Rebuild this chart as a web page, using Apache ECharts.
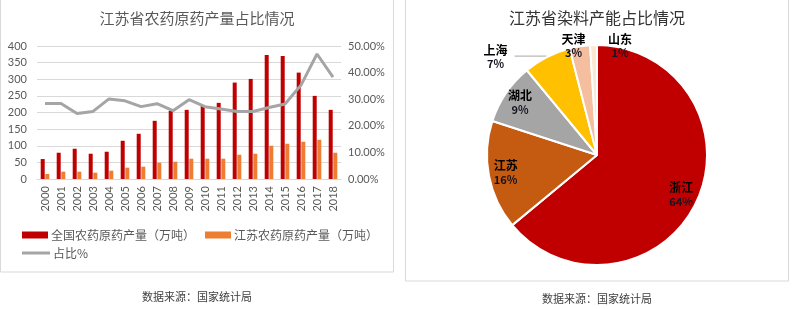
<!DOCTYPE html>
<html>
<head>
<meta charset="utf-8">
<script src="https://cdn.jsdelivr.net/npm/echarts@6/dist/echarts.min.js"></script>
<style>
html,body{margin:0;padding:0;background:#fff;}
#c{width:809px;height:309px;}
</style>
</head>
<body>
<div id="c"></div>
<script>
// ---- data ----
const years = ['2000','2001','2002','2003','2004','2005','2006','2007','2008','2009','2010','2011','2012','2013','2014','2015','2016','2017','2018'];
const nationalOutput = [60, 79, 91, 76, 82, 115, 136, 175, 205, 208, 220, 229, 290, 301, 373, 370, 320, 250, 208];
const jiangsuOutput = [15, 22, 22, 19, 25, 34, 37, 49, 52, 61, 61, 61, 73, 76, 100, 106, 112, 118, 79];
const sharePct = [28.4, 28.4, 24.6, 25.4, 30.1, 29.4, 27.2, 28.3, 25.7, 29.8, 27.2, 26.3, 25.4, 25.4, 26.9, 28.2, 35.3, 47.0, 38.3];
const leftTicks = [0, 50, 100, 150, 200, 250, 300, 350, 400];
const rightTicks = ['0.00%', '10.00%', '20.00%', '30.00%', '40.00%', '50.00%'];
const provinces = ['浙江', '江苏', '湖北', '上海', '天津', '山东'];
const dyeShare = [64, 16, 9, 7, 3, 1];

const pieColors = ['#C00000', '#C55A11', '#A5A5A5', '#FFC000', '#F5BE9E', '#FBE7D2'];
const numFont = 'Lato, "Noto Sans CJK SC", sans-serif';
const cjkFont = '"Noto Sans CJK SC", sans-serif';

const chart = echarts.init(document.getElementById('c'), null, {renderer: 'canvas'});

const pieData = provinces.map((p, i) => ({name: p, value: dyeShare[i], itemStyle: {color: pieColors[i]}}));
const labelData = provinces.map((p, i) => {
  const d = {name: p, value: dyeShare[i]};
  if (p === '上海') {
    d.label = {position: 'outside'};
    d.labelLine = {show: true, length: 1, length2: 32, lineStyle: {color: '#A6A6A6', width: 1}};
  }
  return d;
});
const labelOffsets = {'天津': [-9, -17], '山东': [26, -16], '上海': [0, 1]};

chart.setOption({
  animation: false,
  textStyle: {fontFamily: cjkFont},
  title: [
    {text: '江苏省农药原药产量占比情况', left: 197, top: 11, textAlign: 'center', padding: 0,
     textStyle: {fontSize: 15, fontWeight: 'normal', color: '#595959', fontFamily: cjkFont}},
    {text: '江苏省染料产能占比情况', left: 597, top: 10, textAlign: 'center', padding: 0,
     textStyle: {fontSize: 16, fontWeight: 'normal', color: '#333333', fontFamily: cjkFont}},
    {text: '数据来源：国家统计局', left: 197, top: 291, textAlign: 'center', padding: 0,
     textStyle: {fontSize: 11, fontWeight: 'normal', color: '#404040', fontFamily: cjkFont}},
    {text: '数据来源：国家统计局', left: 597, top: 293, textAlign: 'center', padding: 0,
     textStyle: {fontSize: 11, fontWeight: 'normal', color: '#404040', fontFamily: cjkFont}}
  ],
  graphic: [
    {type: 'rect', shape: {x: 0.5, y: -1, width: 393, height: 273}, style: {fill: 'none', stroke: '#D9D9D9', lineWidth: 1}, silent: true, z: -10},
    {type: 'rect', shape: {x: 405.5, y: -1, width: 383, height: 282}, style: {fill: 'none', stroke: '#D9D9D9', lineWidth: 1}, silent: true, z: -10}
  ],
  legend: [
    {data: ['全国农药原药产量（万吨）', '江苏农药原药产量（万吨）'], left: 22, top: 229, padding: 0,
     icon: 'rect', itemWidth: 26, itemHeight: 7, itemGap: 10,
     textStyle: {fontSize: 12, color: '#595959', fontFamily: cjkFont, padding: [0, 0, 0, -2]}},
    {data: ['占比%'], left: 22, top: 247, padding: 0,
     icon: 'rect', itemWidth: 28, itemHeight: 3,
     textStyle: {fontSize: 12, color: '#595959', fontFamily: cjkFont, padding: [0, 0, 0, -2]}}
  ],
  grid: {left: 37, right: 468, top: 46, bottom: 130, containLabel: false},
  xAxis: {
    type: 'category', data: years,
    axisLine: {show: true, lineStyle: {color: '#D9D9D9'}},
    axisTick: {show: false},
    axisLabel: {rotate: 90, interval: 0, margin: 7, fontSize: 11, color: '#595959', fontFamily: numFont}
  },
  yAxis: [
    {type: 'value', min: leftTicks[0], max: leftTicks[leftTicks.length - 1], interval: 50,
     axisLine: {show: false}, axisTick: {show: false},
     axisLabel: {fontSize: 11, color: '#595959', margin: 10, fontFamily: numFont},
     splitLine: {lineStyle: {color: '#D9D9D9'}}},
    {type: 'value', min: 0, max: 50, interval: 10, position: 'right',
     axisLine: {show: false}, axisTick: {show: false},
     axisLabel: {fontSize: 11, color: '#595959', margin: 7, fontFamily: numFont,
       formatter: (v) => rightTicks[Math.round(v / 10)]},
     splitLine: {show: false}}
  ],
  series: [
    {name: '全国农药原药产量（万吨）', type: 'bar', data: nationalOutput, barWidth: 4, barGap: '15%',
     itemStyle: {color: '#C00000'}},
    {name: '江苏农药原药产量（万吨）', type: 'bar', data: jiangsuOutput, barWidth: 4, barGap: '15%',
     itemStyle: {color: '#ED7D31'}},
    {name: '占比%', type: 'line', yAxisIndex: 1, data: sharePct, symbol: 'none',
     lineStyle: {color: '#A5A5A5', width: 3}, itemStyle: {color: '#A5A5A5'}},
    {type: 'pie', center: [597, 155], radius: 110, startAngle: 90, clockwise: true,
     data: pieData, label: {show: false}, labelLine: {show: false}, silent: true,
     itemStyle: {borderColor: '#fff', borderWidth: 2}},
    {type: 'pie', center: [597, 155], radius: [70, 110], startAngle: 90, clockwise: true,
     data: labelData, silent: true, avoidLabelOverlap: false,
     itemStyle: {color: 'rgba(0,0,0,0)', borderWidth: 0},
     label: {show: true, position: 'inside', color: '#000', textBorderWidth: 0, textBorderColor: 'transparent',
       formatter: (p) => '{n|' + p.name + '}\n{v|' + p.value + '%}',
       rich: {
         n: {fontSize: 12, fontWeight: 'bold', color: '#000', width: 28, align: 'center', lineHeight: 14,
             fontFamily: cjkFont, textBorderWidth: 0},
         v: {fontSize: 11, fontWeight: 'bold', color: '#141420', width: 28, align: 'center', lineHeight: 14,
             fontFamily: cjkFont, textBorderWidth: 0}
       }},
     labelLine: {show: false},
     labelLayout: (params) => {
       const off = labelOffsets[provinces[params.dataIndex]];
       return off ? {dx: off[0], dy: off[1]} : {};
     }}
  ]
});
</script>
</body>
</html>
